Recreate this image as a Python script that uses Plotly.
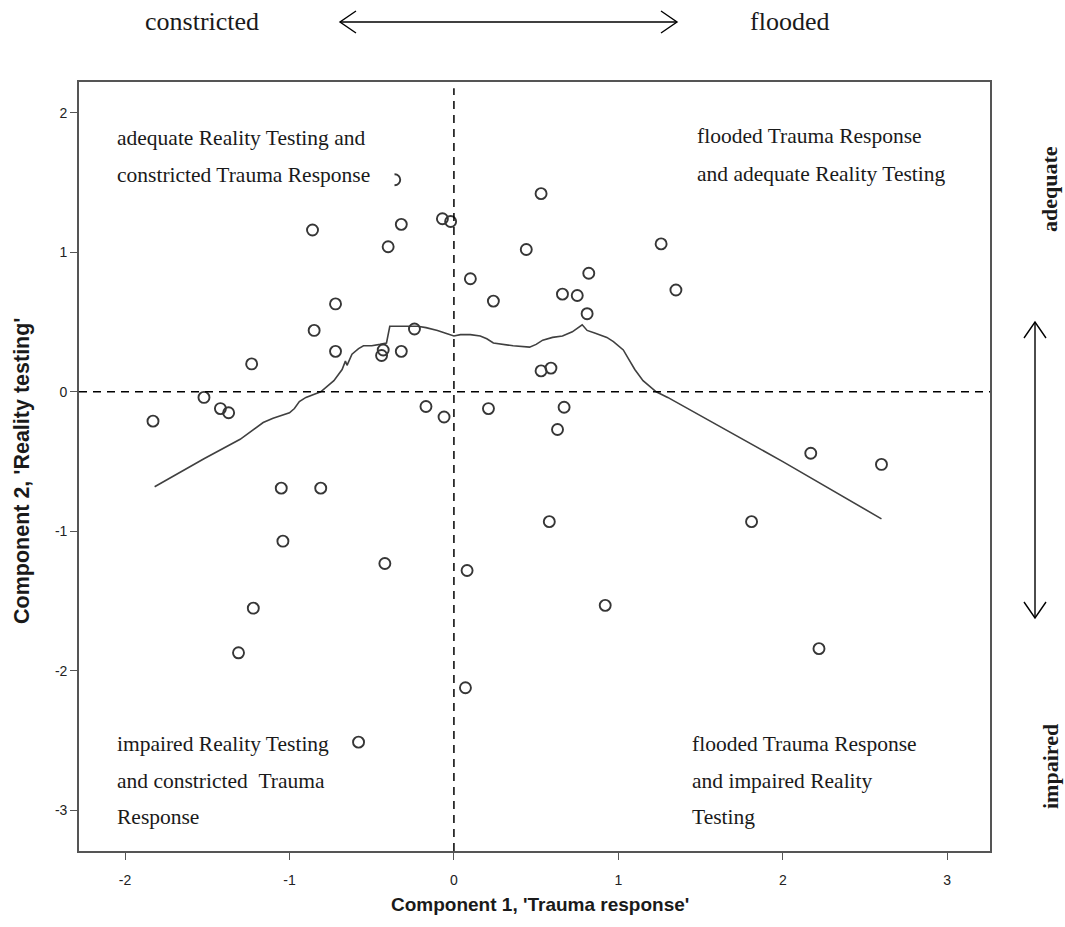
import plotly.graph_objects as go

# ---- data ----
pts_x = [-1.83, -1.52, -1.42, -1.37, -1.23, -1.05, -0.81, -1.04, -0.42, 0.08,
         -1.22, -1.31, 0.07, -0.58, -0.17, -0.06, 0.21,
         -0.86, -0.72, -0.85, -0.72, -0.40, -0.32, -0.07, -0.02, 0.10,
         0.24, 0.44, 0.53, 0.53, -0.43, -0.44, -0.32, -0.24, -0.36,
         1.26, 1.35, 0.82, 0.66, 0.75, 0.81, 0.59, 0.67, 0.63, 0.58,
         0.92, 1.81, 2.17, 2.60, 2.22]
pts_y = [-0.21, -0.04, -0.12, -0.15, 0.20, -0.69, -0.69, -1.07, -1.23, -1.28,
         -1.55, -1.87, -2.12, -2.51, -0.105, -0.18, -0.12,
         1.16, 0.63, 0.44, 0.29, 1.04, 1.20, 1.24, 1.22, 0.81,
         0.65, 1.02, 1.42, 0.15, 0.30, 0.26, 0.29, 0.45, 1.52,
         1.06, 0.73, 0.85, 0.70, 0.69, 0.56, 0.17, -0.11, -0.27, -0.93,
         -1.53, -0.93, -0.44, -0.52, -1.84]

fit_x = [-1.82, -1.52, -1.30, -1.22, -1.16, -1.10, -1.05, -1.00, -0.97, -0.94,
         -0.90, -0.85, -0.81, -0.73, -0.68, -0.66, -0.65, -0.62, -0.58, -0.55,
         -0.50, -0.45, -0.41, -0.39, -0.27, -0.22, -0.17, -0.10, -0.05, 0.00,
         0.04, 0.10, 0.16, 0.20, 0.24, 0.30, 0.36, 0.46, 0.50, 0.54,
         0.60, 0.66, 0.72, 0.78, 0.81, 0.86, 0.93, 0.97, 1.03, 1.06,
         1.10, 1.15, 1.23, 1.30, 2.00, 2.60]
fit_y = [-0.68, -0.48, -0.34, -0.27, -0.22, -0.19, -0.17, -0.15, -0.12, -0.07,
         -0.04, -0.02, 0.00, 0.08, 0.16, 0.22, 0.19, 0.27, 0.31, 0.33,
         0.33, 0.34, 0.35, 0.47, 0.47, 0.47, 0.46, 0.44, 0.42, 0.40,
         0.41, 0.41, 0.40, 0.38, 0.35, 0.34, 0.33, 0.32, 0.34, 0.37,
         0.39, 0.40, 0.43, 0.48, 0.44, 0.42, 0.39, 0.36, 0.30, 0.24,
         0.16, 0.08, 0.00, -0.04, -0.50, -0.91]

x_ticks = [-2, -1, 0, 1, 2, 3]
y_ticks = [-3, -2, -1, 0, 1, 2]

W, H = 1065, 927
L, R, T, B = 79, 990, 82, 851
PW, PH = R - L, B - T

def px(v):
    return (v - L) / PW

def py(v):
    return (B - v) / PH

SERIF = "Liberation Serif, Times New Roman, serif"
SANS = "Liberation Sans, Arial, sans-serif"

fig = go.Figure()
fig.add_trace(go.Scatter(x=fit_x, y=fit_y, mode="lines",
                         line=dict(color="#404040", width=1.6),
                         hoverinfo="skip", showlegend=False))
fig.add_trace(go.Scatter(x=pts_x, y=pts_y, mode="markers",
                         marker=dict(symbol="circle-open", size=11,
                                     color="#363636", line=dict(width=1.9)),
                         showlegend=False))

shapes = []
# reference lines at zero
shapes.append(dict(type="line", xref="x", yref="paper", x0=0, x1=0, y0=0, y1=0.992,
                   line=dict(color="black", width=1.5, dash="8px,6px")))
shapes.append(dict(type="line", xref="paper", yref="y", x0=0, x1=1, y0=0, y1=0,
                   line=dict(color="black", width=1.5, dash="8px,6px")))

def path(points):
    return "M " + " L ".join(f"{px(a):.5f},{py(b):.5f}" for a, b in points)

arrow_style = dict(type="path", xref="paper", yref="paper",
                   line=dict(color="black", width=1.4))
AY = 22
# top horizontal double arrow
shapes.append(dict(path=path([(340, AY), (677, AY)]), **arrow_style))
shapes.append(dict(path=path([(356, AY - 11), (340, AY), (356, AY + 11)]), **arrow_style))
shapes.append(dict(path=path([(661, AY - 11), (677, AY), (661, AY + 11)]), **arrow_style))
# right vertical double arrow
shapes.append(dict(path=path([(1035, 322), (1035, 618)]), **arrow_style))
shapes.append(dict(path=path([(1024, 338), (1035, 322), (1046, 338)]), **arrow_style))
shapes.append(dict(path=path([(1024, 602), (1035, 618), (1046, 602)]), **arrow_style))

ann = []
def label(text, x, y, size=21.5, xanchor="left", font=SERIF, bold=False, angle=0, bg=None, width=None):
    d = dict(text=("<b>%s</b>" % text) if bold else text, x=px(x), y=py(y),
             xref="paper", yref="paper", showarrow=False, xanchor=xanchor,
             yanchor="middle", textangle=angle,
             font=dict(family=font, size=size, color="#1a1a1a"))
    if bg:
        d["bgcolor"] = bg
    if width:
        d["width"] = width
        d["align"] = "left"
    ann.append(d)

# quadrant descriptions
label("adequate Reality Testing and", 115, 138, bg="white")
label("constricted Trauma Response", 115, 175, bg="white", width=276)
label("flooded Trauma Response", 695, 136, bg="white")
label("and adequate Reality Testing", 695, 174, bg="white")
label("impaired Reality Testing", 115, 744, bg="white")
label("and constricted&nbsp;&nbsp;Trauma", 115, 781, bg="white")
label("Response", 115, 817, bg="white")
label("flooded Trauma Response", 690, 744, bg="white")
label("and impaired Reality", 690, 781, bg="white")
label("Testing", 690, 817, bg="white")

# outer labels
label("constricted", 202, 22, size=26, xanchor="center")
label("flooded", 789, 22, size=26, xanchor="center")
label("adequate", 1050, 189, size=22, xanchor="center", bold=True, angle=-90)
label("impaired", 1050, 767, size=22, xanchor="center", bold=True, angle=-90)

# axis titles
label("Component 1, 'Trauma response'", 540, 905, size=19, xanchor="center", font=SANS, bold=True)
label("Component 2, 'Reality testing'", 22, 471, size=21.5, xanchor="center", font=SANS, bold=True, angle=-90)

fig.update_layout(
    width=W, height=H,
    margin=dict(l=L, r=W - R, t=T, b=H - B, pad=0),
    paper_bgcolor="white", plot_bgcolor="white",
    shapes=shapes, annotations=ann,
    xaxis=dict(range=[-2.28, 3.26], tickvals=x_ticks, ticktext=[str(v) for v in x_ticks],
               showgrid=False, zeroline=False, showline=True, mirror=True,
               linecolor="#555555", linewidth=1.6, ticks="outside", ticklen=7,
               tickcolor="#555555", tickwidth=1.4, ticklabelstandoff=8,
               tickfont=dict(family=SANS, size=14, color="#222222")),
    yaxis=dict(range=[-3.29, 2.22], tickvals=y_ticks, ticktext=[str(v) for v in y_ticks],
               showgrid=False, zeroline=False, showline=True, mirror=True,
               linecolor="#555555", linewidth=1.6, ticks="outside", ticklen=7,
               tickcolor="#555555", tickwidth=1.4,
               tickfont=dict(family=SANS, size=14, color="#222222")),
)

fig.write_html("out.html", config={"displayModeBar": False},
               post_script="document.body.style.margin='0';document.body.style.overflow='hidden';")
